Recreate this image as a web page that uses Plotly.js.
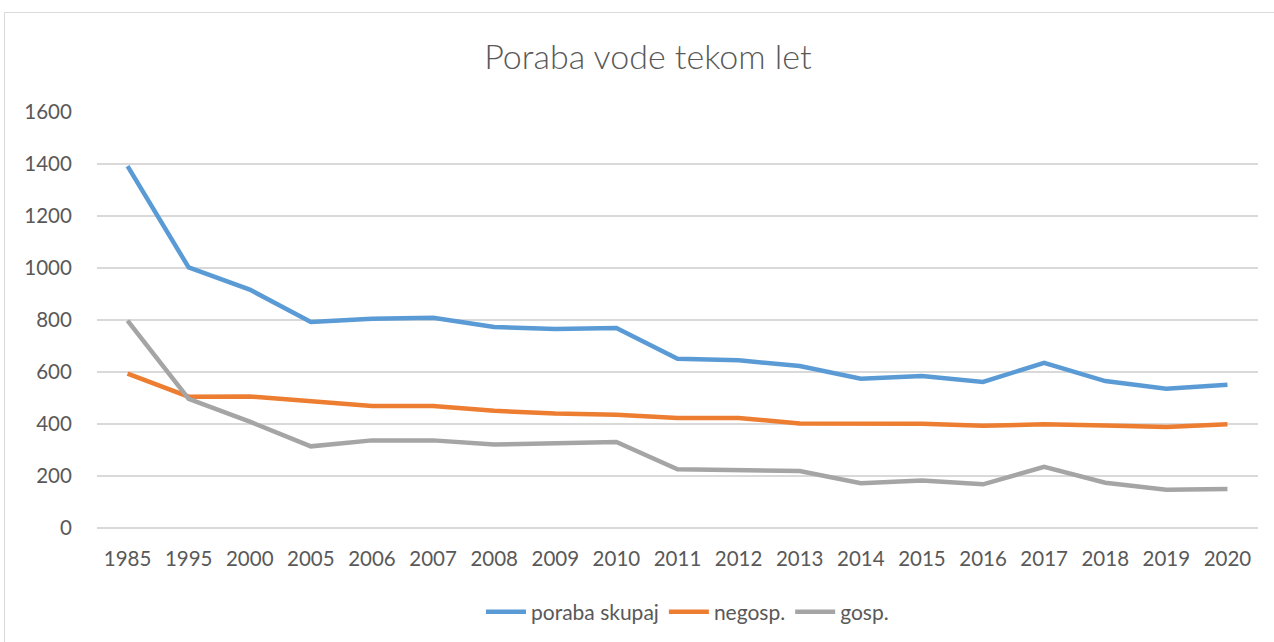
<!DOCTYPE html>
<html><head><meta charset="utf-8">
<script src="https://cdn.plot.ly/plotly-3.0.1.min.js"></script>
<style>
html,body{margin:0;padding:0;background:#fff;overflow:hidden}
#frame{position:absolute;left:4px;top:12px;width:1290px;height:660px;border:1px solid #d9d9d9;box-sizing:border-box}
#chart{position:absolute;left:0;top:0;width:1274px;height:642px}
</style></head>
<body>
<div id="frame"></div>
<div id="chart"></div>
<script>
const years = ["1985","1995","2000","2005","2006","2007","2008","2009","2010","2011","2012","2013","2014","2015","2016","2017","2018","2019","2020"];
const porabaSkupaj = [1392,1002,917,792,805,809,773,765,769,651,645,623,574,585,562,635,565,536,551];
const negosp = [594,505,506,487,469,469,451,440,436,423,423,402,401,401,393,399,394,388,399];
const gosp = [798,497,409,314,337,337,321,324,331,226,222,219,172,183,168,235,174,147,150];
const yTicks = [0,200,400,600,800,1000,1200,1400,1600];

const font = "Lato, 'Open Sans', sans-serif";
const mk = (name, y, color) => ({
  type:'scatter', mode:'lines', name, x:years, y,
  line:{color, width:4.5, shape:'linear'}, hoverinfo:'x+y'
});
const data = [
  mk('poraba skupaj', porabaSkupaj, '#5B9BD5'),
  mk('negosp.', negosp, '#ED7D31'),
  mk('gosp.', gosp, '#A5A5A5')
];
const layout = {
  width:1274, height:642,
  paper_bgcolor:'rgba(0,0,0,0)', plot_bgcolor:'rgba(0,0,0,0)',
  margin:{l:97, r:16, t:112, b:114, autoexpand:false},
  title:{text:'Poraba vode tekom let', font:{family:font, size:34, weight:300, color:'#595959'}, x:0.5086, xanchor:'center', y:1-57/642, yanchor:'middle'},
  xaxis:{type:'category', range:[-0.5,18.5], showgrid:false, zeroline:false, showline:false,
    ticks:'outside', ticklen:12, tickcolor:'rgba(0,0,0,0)',
    tickfont:{family:font, size:20.5, color:'#595959'}, fixedrange:true},
  yaxis:{range:[0,1600], tickvals:yTicks, ticktext:yTicks.map(String), showgrid:true, gridcolor:'#d9d9d9', gridwidth:1.3,
    zeroline:true, zerolinecolor:'#d9d9d9', zerolinewidth:1.3, showline:false,
    ticks:'outside', ticklen:20, tickcolor:'rgba(0,0,0,0)',
    tickfont:{family:font, size:20.5, color:'#595959'}, fixedrange:true},
  showlegend:true,
  legend:{orientation:'h', x:0.5086, xanchor:'center', y:-0.202, yanchor:'middle',
    font:{family:font, size:21, color:'#595959'}, itemwidth:40, tracegroupgap:0},
};
Plotly.newPlot('chart', data, layout, {displayModeBar:false, staticPlot:true});
</script>
</body></html>
